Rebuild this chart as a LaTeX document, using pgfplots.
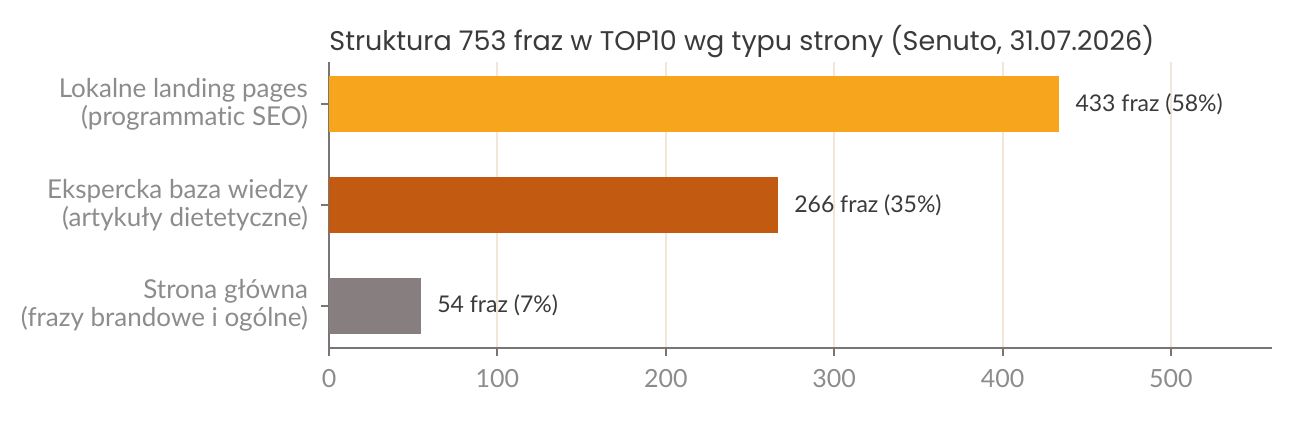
\documentclass[border=0pt]{standalone}
\usepackage{pgfplots}
\pgfplotsset{compat=1.18}
\usepackage{fontspec}
\setmainfont{Lato}[Ligatures=NoCommon]
\newfontfamily\titlefont{Poppins}

\definecolor{barA}{HTML}{F6A51C}
\definecolor{barB}{HTML}{C25A12}
\definecolor{barC}{HTML}{877E80}
\definecolor{axisgray}{HTML}{7A7475}
\definecolor{labgray}{HTML}{8C8C8C}
\definecolor{gridbeige}{HTML}{F3E6D6}
\definecolor{valtext}{HTML}{3A3A3A}

\begin{document}
\begin{tikzpicture}
\useasboundingbox (0,0) rectangle (650pt,210pt);
\node[anchor=base west, inner sep=0pt, font=\titlefont\fontsize{13.5}{16}\selectfont, text=valtext]
  at (164.5pt,185pt) {Struktura 753 fraz w TOP10 wg typu strony (Senuto, 31.07.2026)};
\begin{axis}[
    at={(164.5pt,36pt)}, anchor=south west,
    scale only axis,
    width=471.5pt, height=143pt,
    xbar, bar width=27.5pt,
    xmin=0, xmax=560,
    ymin=-0.42, ymax=2.42,
    xtick={0,100,200,300,400,500},
    ytick={0,1,2},
    yticklabels={{Strona główna\\(frazy brandowe i ogólne)},
                 {Ekspercka baza wiedzy\\(artykuły dietetyczne)},
                 {Lokalne landing pages\\(programmatic SEO)}},
    axis x line*=bottom, axis y line*=left,
    axis line style={axisgray, line width=1pt},
    tick style={axisgray, line width=1pt},
    tick align=outside, major tick length=4pt,
    xmajorgrids, grid style={gridbeige, line width=1pt},
    yticklabel style={align=right, font=\fontsize{13}{14}\selectfont, text=labgray, xshift=-3pt},
    xticklabel style={font=\fontsize{12.5}{14}\selectfont, text=labgray, yshift=-3pt},
    /pgf/number format/assume math mode=true,
    nodes near coords,
    point meta=explicit symbolic,
    every node near coord/.append style={font=\fontsize{11.5}{13}\selectfont, text=valtext,
        anchor=west, inner sep=0pt, xshift=8.5pt},
]
\addplot[barA, fill=barA, bar shift=0pt] coordinates {(433,2) [433 fraz (58\%)]};
\addplot[barB, fill=barB, bar shift=0pt] coordinates {(266,1) [266 fraz (35\%)]};
\addplot[barC, fill=barC, bar shift=0pt] coordinates {(54,0) [54 fraz (7\%)]};
\end{axis}
\end{tikzpicture}
\end{document}
